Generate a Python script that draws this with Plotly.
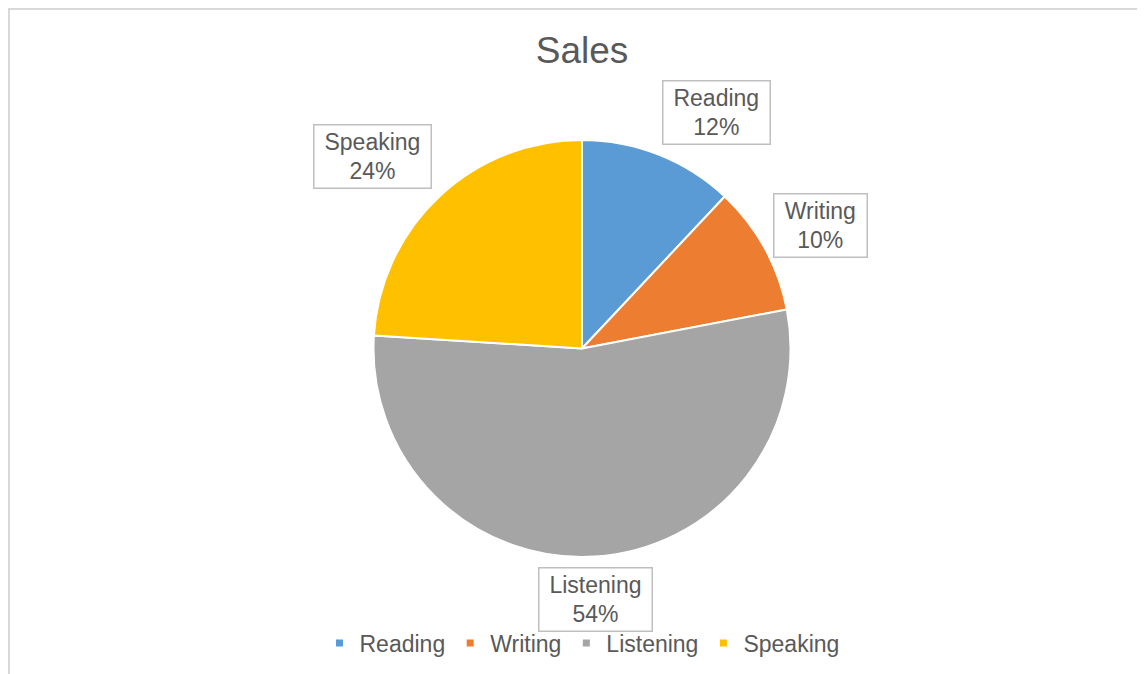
import math
import plotly.graph_objects as go

# ---- data ----
title_text = "Sales"
categories = ["Reading", "Writing", "Listening", "Speaking"]
values = [12, 10, 54, 24]
colors = ["#5B9BD5", "#ED7D31", "#A5A5A5", "#FFC000"]

# ---- layout settings (px, relative to the page; the page body adds 8px) ----
OFF = 8
W, H = 1145 - OFF, 674 - OFF
cx, cy, R = 582 - OFF, 348.5 - OFF, 208.5   # pie centre / radius
label_gap = 10                                # px between pie edge and label box
box_h = 58                                    # label text-box height
font_family = "Liberation Sans, Arial, sans-serif"
text_color = "#595959"
FS = 23

CHAR_W = {"R": .722, "e": .556, "a": .556, "d": .556, "i": .222, "n": .556,
          "g": .556, "W": .944, "r": .333, "t": .278, "L": .556, "s": .5,
          "S": .667, "p": .556, "k": .5, "%": .889}


def text_w(s, size):
    return sum(CHAR_W.get(c, .556) for c in s) * size


fig = go.Figure()

fig.add_trace(go.Pie(
    labels=categories, values=values, sort=False, direction="clockwise",
    rotation=0, textinfo="none", hoverinfo="label+percent",
    marker=dict(colors=colors, line=dict(color="white", width=2)),
    showlegend=False,
    domain=dict(x=[(cx - R) / W, (cx + R) / W],
                y=[1 - (cy + R) / H, 1 - (cy - R) / H]),
))

# legend entries (small square markers like the reference)
for cat, col in zip(categories, colors):
    fig.add_trace(go.Scatter(x=[None], y=[None], mode="markers", name=cat,
                             marker=dict(symbol="square", size=7, color=col),
                             hoverinfo="skip"))

# boxed data labels, placed along each slice's mid angle
total = sum(values)
cum = 0
annotations = []
for cat, v in zip(categories, values):
    frac = v / total
    mid = (cum + frac / 2) * 2 * math.pi
    cum += frac
    ux, uy = math.sin(mid), -math.cos(mid)   # screen direction (y down)
    d = R + label_gap
    px, py = cx + ux * d, cy + uy * d
    yshift = 0
    if abs(ux) >= abs(uy):
        # mostly sideways: hug the pie with the box side, slide vertically
        xanchor = "left" if ux > 0 else "right"
        yanchor = "middle"
        yshift = -(uy / abs(ux)) * (box_h + 5) / 2
    else:
        xanchor = "center" if abs(ux) < 0.3 else ("left" if ux > 0 else "right")
        yanchor = "bottom" if uy < 0 else "top"
    pct = f"{round(frac * 100)}%"
    tw = max(text_w(cat, FS), text_w(pct, FS))
    annotations.append(dict(
        x=px / W, y=1 - py / H, xref="paper", yref="paper",
        xanchor=xanchor, yanchor=yanchor, yshift=yshift, showarrow=False,
        text=f"{cat}<br>{pct}", align="center",
        font=dict(family=font_family, size=FS, color=text_color),
        bgcolor="white", bordercolor="#BFBFBF", borderwidth=1.5, borderpad=2,
        width=tw + 16, height=box_h,
    ))

fig.update_layout(
    width=W, height=H,
    margin=dict(l=0, r=0, t=0, b=0),
    paper_bgcolor="white", plot_bgcolor="white",
    title=dict(text=title_text, x=cx / W, xanchor="center",
               y=1 - (50 - OFF) / H, yanchor="middle", yref="container",
               font=dict(family=font_family, size=37, color=text_color)),
    xaxis=dict(visible=False), yaxis=dict(visible=False),
    legend=dict(orientation="h", x=(582 - OFF) / W, xanchor="center",
                y=1 - (643 - OFF) / H, yanchor="middle",
                font=dict(family=font_family, size=FS, color=text_color),
                bgcolor="rgba(0,0,0,0)"),
    annotations=annotations,
    shapes=[dict(type="rect", xref="paper", yref="paper",
                 x0=1 / W, x1=1.02, y0=-0.02, y1=1 - 1 / H,
                 line=dict(color="#D9D9D9", width=2), layer="below")],
)

fig.write_html("out.html")
